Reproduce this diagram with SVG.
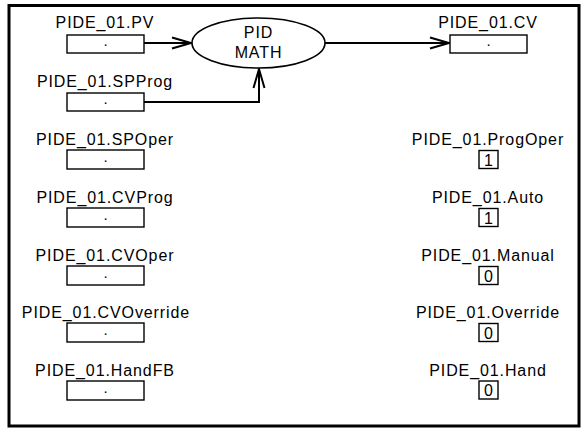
<svg xmlns="http://www.w3.org/2000/svg" width="581" height="428" viewBox="0 0 581 428">
<style>
text{font-family:"Liberation Sans",Arial,sans-serif;fill:#000}
.lbl{font-size:16px;letter-spacing:0.9px;text-anchor:middle}
.dot{font-size:15px;text-anchor:middle}
.val{font-size:16px;text-anchor:middle}
.box{fill:#fff;stroke:#000;stroke-width:1.4}
.conn{fill:none;stroke:#000;stroke-width:2}
</style>
<defs>
<marker id="arr" markerUnits="userSpaceOnUse" markerWidth="24" markerHeight="14" viewBox="-20 -7 24 14" refX="0" refY="0" orient="auto">
<path d="M-19,-5.5 L0,0 L-19,5.5" fill="none" stroke="#000" stroke-width="2"/>
</marker>
</defs>
<rect x="9" y="5.5" width="570" height="420.5" fill="#fff" stroke="#000" stroke-width="3"/>
<g id="connectors">
<path class="conn" d="M144,43 H191" marker-end="url(#arr)"/>
<path class="conn" d="M144,102 H259 V69" marker-end="url(#arr)"/>
<path class="conn" d="M325,43 H449" marker-end="url(#arr)"/>
</g>
<g id="pid_math">
<ellipse cx="258.5" cy="43" rx="66.5" ry="25" fill="#fff" stroke="#000" stroke-width="1.6"/>
<text class="lbl" x="258.5" y="38">PID</text>
<text class="lbl" x="258.5" y="58">MATH</text>
</g>
<g id="pv">
<text class="lbl" x="105" y="28">PIDE_01.PV</text>
<rect class="box" x="67" y="35" width="77" height="18"/>
<text class="dot" x="105.5" y="46">.</text>
</g>
<g id="spprog">
<text class="lbl" x="105" y="87">PIDE_01.SPProg</text>
<rect class="box" x="67" y="93" width="77" height="18"/>
<text class="dot" x="105.5" y="104">.</text>
</g>
<g id="spoper">
<text class="lbl" x="105" y="145">PIDE_01.SPOper</text>
<rect class="box" x="67" y="150" width="77" height="19"/>
<text class="dot" x="105.5" y="161.5">.</text>
</g>
<g id="cvprog">
<text class="lbl" x="105" y="203">PIDE_01.CVProg</text>
<rect class="box" x="67" y="208" width="77" height="19"/>
<text class="dot" x="105.5" y="219.5">.</text>
</g>
<g id="cvoper">
<text class="lbl" x="105" y="261">PIDE_01.CVOper</text>
<rect class="box" x="67" y="266" width="77" height="19"/>
<text class="dot" x="105.5" y="277.5">.</text>
</g>
<g id="cvoverride">
<text class="lbl" x="106" y="318">PIDE_01.CVOverride</text>
<rect class="box" x="67" y="323" width="77" height="19"/>
<text class="dot" x="105.5" y="334.5">.</text>
</g>
<g id="handfb">
<text class="lbl" x="105" y="376">PIDE_01.HandFB</text>
<rect class="box" x="67" y="381" width="77" height="19"/>
<text class="dot" x="105.5" y="392.5">.</text>
</g>
<g id="cv">
<text class="lbl" x="488" y="28">PIDE_01.CV</text>
<rect class="box" x="450" y="35" width="77" height="18"/>
<text class="dot" x="488.5" y="46">.</text>
</g>
<g id="progoper">
<text class="lbl" x="488" y="145">PIDE_01.ProgOper</text>
<rect class="box" x="479" y="150.5" width="19" height="18"/>
<text class="val" x="488.5" y="165.5">1</text>
</g>
<g id="auto">
<text class="lbl" x="488" y="203">PIDE_01.Auto</text>
<rect class="box" x="479" y="208.5" width="19" height="18"/>
<text class="val" x="488.5" y="223.5">1</text>
</g>
<g id="manual">
<text class="lbl" x="488" y="261">PIDE_01.Manual</text>
<rect class="box" x="479" y="266.5" width="19" height="18"/>
<text class="val" x="488.5" y="281.5">0</text>
</g>
<g id="override">
<text class="lbl" x="488" y="318">PIDE_01.Override</text>
<rect class="box" x="479" y="323.5" width="19" height="18"/>
<text class="val" x="488.5" y="338.5">0</text>
</g>
<g id="hand">
<text class="lbl" x="488" y="376">PIDE_01.Hand</text>
<rect class="box" x="479" y="381" width="19" height="18"/>
<text class="val" x="488.5" y="396">0</text>
</g>
</svg>
